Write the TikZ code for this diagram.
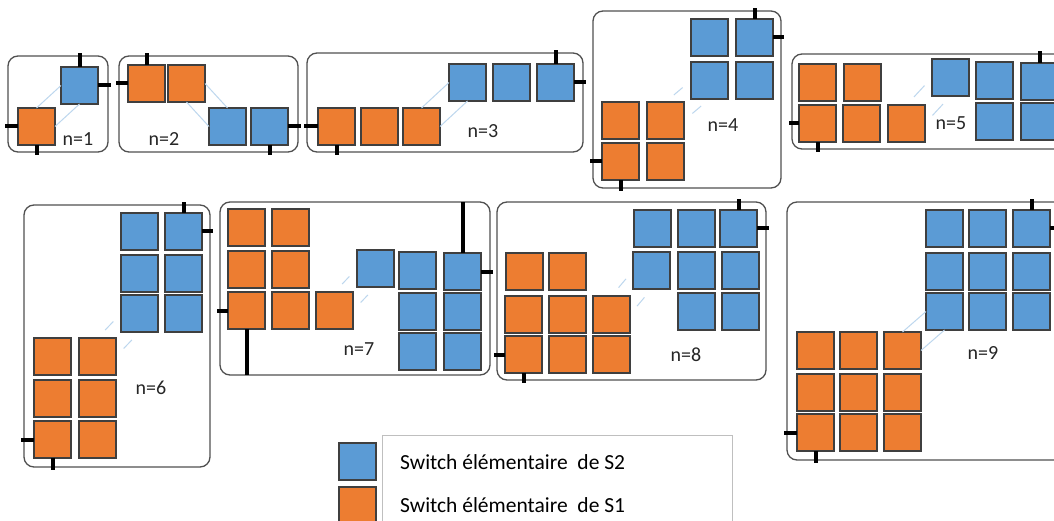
\documentclass[tikz,border=0pt]{standalone}
\usepackage{fontspec}
\setmainfont{Carlito}
\definecolor{sblue}{HTML}{5B9BD5}
\definecolor{sorange}{HTML}{ED7D31}
\definecolor{sqedge}{HTML}{3F3F3F}
\definecolor{frameedge}{HTML}{505050}
\definecolor{hintcol}{HTML}{BDD7EE}
\tikzset{
 sq/.style={draw=sqedge, line width=1.1pt, minimum width=37pt, minimum height=37pt, inner sep=0pt, outer sep=0pt, anchor=north west},
 bsq/.style={sq, fill=sblue},
 osq/.style={sq, fill=sorange},
 frm/.style={draw=frameedge, line width=1.3pt, rounded corners=10pt, inner sep=0pt, outer sep=0pt, anchor=north west},
 stub/.style={line width=4pt, black, shorten >=-3pt},
 longstub/.style={line width=4pt, black},
 hint/.style={draw=hintcol, line width=1pt},
 gapline/.style={hint, shorten <=11pt, shorten >=11pt},
 lbl/.style={font=\fontsize{20}{23}\selectfont, text=black!85, inner sep=0pt},
 leg/.style={font=\fontsize{21.5}{24}\selectfont, text=black, inner sep=0pt, anchor=west},
}
\newcommand\mkframe[5]{\node[frm, minimum width=#4pt, minimum height=#5pt] (#1) at (#2,#3) {};}
\newcommand\mkb[3]{\node[bsq] (#1) at (#2,#3) {};}
\newcommand\mko[3]{\node[osq] (#1) at (#2,#3) {};}
\begin{document}
\begin{tikzpicture}[x=1pt,y=-1pt]
\useasboundingbox (0,0) rectangle (1054,521);
\clip (0,0) rectangle (1054,521);
\fill[white] (0,0) rectangle (1054,521);

% frames
\mkframe{f1}{8}{56}{100}{96}
\mkframe{f2}{119}{56}{179}{96}
\mkframe{f3}{307}{53}{276}{99}
\mkframe{f4}{593}{11}{188}{177}
\mkframe{f5}{792}{54}{290}{95}
\mkframe{f6}{24}{205}{186}{262}
\mkframe{f7}{220}{202}{270}{173}
\mkframe{f8}{497}{202}{269}{178}
\mkframe{f9}{787}{202}{290}{258}

% ---- n=1
\mkb{p1b}{61}{67}
\mko{p1o}{18}{108}
\draw[hint] (p1o.north) -- (p1b.west);
\draw[hint] (p1o.east) -- (p1b.south);
\draw[stub] (p1b.north) -- (p1b.north |- f1.north);
\draw[stub] (p1b.east) -- (p1b.east -| f1.east);
\draw[stub] (p1o.west) -- (p1o.west -| f1.west);
\draw[stub] (p1o.south) -- (p1o.south |- f1.south);
\node[lbl] (l1) at (78,139) {n=1};

% ---- n=2
\mko{p2o1}{128}{65}
\mko{p2o2}{168}{65}
\mkb{p2b1}{209}{108}
\mkb{p2b2}{251}{108}
\draw[hint] (p2o2.east) -- (p2b1.north);
\draw[hint] (p2o2.south) -- (p2b1.west);
\draw[stub] (p2o1.north) -- (p2o1.north |- f2.north);
\draw[stub] (p2o1.west) -- (p2o1.west -| f2.west);
\draw[stub] (p2b2.east) -- (p2b2.east -| f2.east);
\draw[stub] (p2b2.south) -- (p2b2.south |- f2.south);
\node[lbl] (l2) at (164,139) {n=2};

% ---- n=3
\mko{p3o1}{318}{108}
\mko{p3o2}{361}{108}
\mko{p3o3}{403}{108}
\mkb{p3b1}{449}{64}
\mkb{p3b2}{493}{64}
\mkb{p3b3}{537}{64}
\draw[hint] (p3o3.north) -- (p3b1.west);
\draw[hint] (p3o3.east) -- (p3b1.south);
\draw[stub] (p3b3.north) -- (p3b3.north |- f3.north);
\draw[stub] (p3b3.east) -- (p3b3.east -| f3.east);
\draw[stub] (p3o1.west) -- (p3o1.west -| f3.west);
\draw[stub] (p3o1.south) -- (p3o1.south |- f3.south);
\node[lbl] (l3) at (483,131) {n=3};

% ---- n=4
\mkb{p4b1}{691}{19}
\mkb{p4b2}{736}{19}
\mkb{p4b3}{691}{62}
\mkb{p4b4}{736}{62}
\mko{p4o1}{602}{102}
\mko{p4o2}{647}{102}
\mko{p4o3}{602}{143}
\mko{p4o4}{647}{143}
\draw[gapline] (p4o2.north) -- (p4b3.west);
\draw[gapline] (p4o2.east) -- (p4b3.south);
\draw[stub] (p4b2.north) -- (p4b2.north |- f4.north);
\draw[stub] (p4b2.east) -- (p4b2.east -| f4.east);
\draw[stub] (p4o3.west) -- (p4o3.west -| f4.west);
\draw[stub] (p4o3.south) -- (p4o3.south |- f4.south);
\node[lbl] (l4) at (723,125) {n=4};

% ---- n=5
\mko{p5o1}{799}{64}
\mko{p5o2}{844}{64}
\mko{p5o3}{799}{105}
\mko{p5o4}{843}{105}
\mko{p5o5}{888}{105}
\mkb{p5b1}{932}{59}
\mkb{p5b2}{976}{62}
\mkb{p5b3}{1021}{63}
\mkb{p5b4}{976}{103}
\mkb{p5b5}{1021}{103}
\draw[gapline] (p5o5.north) -- (p5b1.west);
\draw[gapline] (p5o5.east) -- (p5b1.south);
\draw[stub] (p5b3.north) -- (p5b3.north |- f5.north);
\draw[stub] (p5o3.west) -- (p5o3.west -| f5.west);
\draw[stub] (p5o3.south) -- (p5o3.south |- f5.south);
\node[lbl] (l5) at (951,123) {n=5};

% ---- n=6
\mkb{p6b1}{121}{213}
\mkb{p6b2}{165}{213}
\mkb{p6b3}{121}{255}
\mkb{p6b4}{165}{255}
\mkb{p6b5}{121}{295}
\mkb{p6b6}{165}{295}
\mko{p6o1}{34}{338}
\mko{p6o2}{79}{338}
\mko{p6o3}{34}{380}
\mko{p6o4}{79}{380}
\mko{p6o5}{34}{421}
\mko{p6o6}{79}{421}
\draw[gapline] (p6o2.north) -- (p6b5.west);
\draw[gapline] (p6o2.east) -- (p6b5.south);
\draw[stub] (p6b2.north) -- (p6b2.north |- f6.north);
\draw[stub] (p6b2.east) -- (p6b2.east -| f6.east);
\draw[stub] (p6o5.west) -- (p6o5.west -| f6.west);
\draw[stub] (p6o5.south) -- (p6o5.south |- f6.south);
\node[lbl] (l6) at (151,388) {n=6};

% ---- n=7
\mko{p7o1}{228}{209}
\mko{p7o2}{272}{209}
\mko{p7o3}{228}{251}
\mko{p7o4}{272}{251}
\mko{p7o5}{228}{292}
\mko{p7o6}{272}{292}
\mko{p7o7}{316}{292}
\mkb{p7b1}{357}{250}
\mkb{p7b2}{399}{252}
\mkb{p7b3}{444}{253}
\mkb{p7b4}{399}{293}
\mkb{p7b5}{444}{293}
\mkb{p7b6}{399}{333}
\mkb{p7b7}{444}{333}
\draw[gapline] (p7o7.north) -- (p7b1.west);
\draw[gapline] (p7o7.east) -- (p7b1.south);
\draw[longstub] (p7b3.north) -- (p7b3.north |- f7.north);
\draw[stub] (p7b3.east) -- (p7b3.east -| f7.east);
\draw[stub] (p7o5.west) -- (p7o5.west -| f7.west);
\draw[longstub] (p7o5.south) -- (p7o5.south |- f7.south);
\node[lbl] (l7) at (359,349) {n=7};

% ---- n=8
\mkb{p8b1}{634}{210}
\mkb{p8b2}{678}{210}
\mkb{p8b3}{720}{210}
\mkb{p8b4}{633}{252}
\mkb{p8b5}{678}{252}
\mkb{p8b6}{722}{252}
\mkb{p8b7}{678}{293}
\mkb{p8b8}{722}{293}
\mko{p8o1}{506}{253}
\mko{p8o2}{549}{253}
\mko{p8o3}{505}{296}
\mko{p8o4}{549}{296}
\mko{p8o5}{593}{296}
\mko{p8o6}{505}{336}
\mko{p8o7}{549}{336}
\mko{p8o8}{593}{336}
\draw[gapline] (p8o5.north) -- (p8b4.west);
\draw[gapline] (p8o5.east) -- (p8b4.south);
\draw[stub] (p8b3.north) -- (p8b3.north |- f8.north);
\draw[stub] (p8b3.east) -- (p8b3.east -| f8.east);
\draw[stub] (p8o6.west) -- (p8o6.west -| f8.west);
\draw[stub] (p8o6.south) -- (p8o6.south |- f8.south);
\node[lbl] (l8) at (686,355) {n=8};

% ---- n=9
\mkb{p9b1}{926}{210}
\mkb{p9b2}{969}{210}
\mkb{p9b3}{1013}{210}
\mkb{p9b4}{926}{253}
\mkb{p9b5}{969}{253}
\mkb{p9b6}{1013}{253}
\mkb{p9b7}{926}{293}
\mkb{p9b8}{969}{293}
\mkb{p9b9}{1013}{293}
\mko{p9o1}{797}{332}
\mko{p9o2}{840}{332}
\mko{p9o3}{884}{332}
\mko{p9o4}{797}{374}
\mko{p9o5}{840}{374}
\mko{p9o6}{884}{374}
\mko{p9o7}{797}{414}
\mko{p9o8}{840}{414}
\mko{p9o9}{884}{414}
\draw[hint] (p9o3.north) -- (p9b7.west);
\draw[hint] (p9o3.east) -- (p9b7.south);
\draw[stub] (p9b3.north) -- (p9b3.north |- f9.north);
\draw[stub] (p9b3.east) -- (p9b3.east -| f9.east);
\draw[stub] (p9o7.west) -- (p9o7.west -| f9.west);
\draw[stub] (p9o7.south) -- (p9o7.south |- f9.south);
\node[lbl] (l9) at (983,353) {n=9};

% ---- legend
\node[draw=black!25, line width=0.8pt, anchor=north west, minimum width=350pt, minimum height=120pt, inner sep=0pt] (lgbox) at (382,435) {};
\mkb{lgb}{339}{443}
\mko{lgo}{339}{487}
\node[leg] (lt2) at (400,462) {Switch élémentaire~~de S2};
\node[leg] (lt1) at (400,505) {Switch élémentaire~~de S1};
\end{tikzpicture}
\end{document}
